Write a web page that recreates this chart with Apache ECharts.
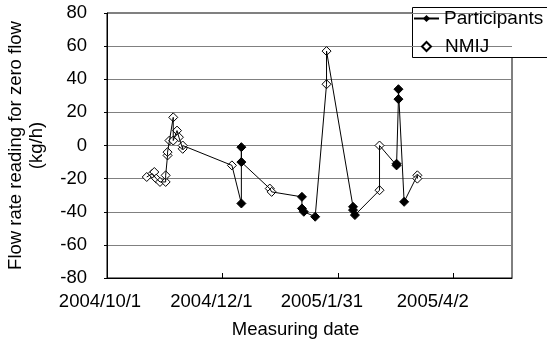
<!DOCTYPE html>
<html>
<head>
<meta charset="utf-8">
<script src="https://cdn.jsdelivr.net/npm/echarts@6/dist/echarts.min.js"></script>
<style>
    html, body { margin: 0; padding: 0; background: #fff; }
    #chart { width: 547px; height: 349px; }
</style>
</head>
<body>
<div id="chart"></div>
<script>
// measurements, in date order (the black line runs through all of them)
var measureDates = [
    '2004/10/22', '2004/10/25', '2004/10/26', '2004/10/27', '2004/10/29',
    '2004/11/1', '2004/11/1', '2004/11/2', '2004/11/2', '2004/11/3',
    '2004/11/5', '2004/11/5', '2004/11/7', '2004/11/8', '2004/11/10', '2004/11/10',
    '2004/12/6', '2004/12/11', '2004/12/11', '2004/12/11',
    '2004/12/26', '2004/12/27',
    '2005/1/12', '2005/1/12', '2005/1/13', '2005/1/19',
    '2005/1/25', '2005/1/25',
    '2005/2/8', '2005/2/8', '2005/2/9',
    '2005/2/22', '2005/2/22',
    '2005/3/3', '2005/3/3', '2005/3/4', '2005/3/4', '2005/3/7',
    '2005/3/14', '2005/3/14'
];
var measureValues = [
    -19, -17, -16, -20, -22,
    -22, -18, -6, -4, 3,
    17, 3, 9, 5, -2, 0,
    -12, -35, -1, -10,
    -26, -28,
    -31, -38, -40, -43,
    37, 57,
    -37, -39, -42,
    -27, 0,
    -12, -11, 28, 34, -34,
    -18, -20
];
// who measured: P = participants, N = NMIJ
var measureBy = [
    'N', 'N', 'N', 'N', 'N',
    'N', 'N', 'N', 'N', 'N',
    'N', 'N', 'N', 'N', 'N', 'N',
    'N', 'P', 'P', 'P',
    'N', 'N',
    'P', 'P', 'P', 'P',
    'N', 'N',
    'P', 'P', 'P',
    'N', 'N',
    'P', 'P', 'P', 'P', 'P',
    'N', 'N'
];
var xTickLabels = ['2004/10/1', '2004/12/1', '2005/1/31', '2005/4/2'];
var yTicks = [-80, -60, -40, -20, 0, 20, 40, 60, 80];

var DAY = 24 * 3600 * 1000;
var base = Date.UTC(2004, 9, 1);

function toDay(s) {
    var p = s.split('/');
    return (Date.UTC(+p[0], +p[1] - 1, +p[2]) - base) / DAY;
}

var lineData = [];
var nmijData = [];
for (var i = 0; i < measureDates.length; i++) {
    var d = toDay(measureDates[i]);
    if (measureBy[i] === 'P') {
        lineData.push([d, measureValues[i]]);
    } else {
        lineData.push({ value: [d, measureValues[i]], symbol: 'none' });
        nmijData.push([d, measureValues[i]]);
    }
}

var font = 'Liberation Sans, Arial, sans-serif';
// excel put the date labels a bit left of their ticks
var labelRich = {};
var shifts = [14, 22, 32, 41];
for (var k = 0; k < shifts.length; k++) {
    labelRich['s' + k] = { fontSize: 18.5, fontFamily: font, color: '#000', padding: [0, shifts[k], 0, 0] };
}
var legendText = { fontSize: 19, fontFamily: font, color: '#000', lineHeight: 19 };

var chart = echarts.init(document.getElementById('chart'), null, { renderer: 'canvas' });
chart.setOption({
    animation: false,
    backgroundColor: '#fff',
    grid: {
        left: 107, top: 13, right: 35, bottom: 71,
        containLabel: false,
        outerBoundsMode: 'none',
        show: true,
        borderColor: '#000',
        borderWidth: 1
    },
    graphic: {
        z: 3,
        elements: [{
            type: 'rect',
            left: 412, top: 7,
            shape: { width: 150, height: 50 },
            style: { fill: '#fff', stroke: '#000', lineWidth: 1 }
        }]
    },
    legend: [{
        left: 413, top: 9,
        padding: 0,
        itemWidth: 25,
        itemHeight: 9,
        textStyle: legendText,
        data: ['Participants']
    }, {
        left: 421, top: 37,
        padding: 0,
        itemWidth: 9,
        itemHeight: 9,
        textStyle: legendText,
        formatter: '{a|{name}}',
        data: ['NMIJ']
    }],
    xAxis: {
        type: 'value',
        min: 0,
        max: 214,
        interval: 61,
        name: 'Measuring date',
        nameLocation: 'middle',
        nameGap: 42,
        nameTextStyle: { fontSize: 18.5, fontFamily: font, color: '#000', padding: [0, 28, 0, 0] },
        axisLine: { onZero: false, lineStyle: { color: '#000', width: 1 } },
        axisTick: { inside: true, length: 5, lineStyle: { color: '#000' } },
        splitLine: { show: false },
        axisLabel: {
            margin: 14,
            showMaxLabel: false,
            fontSize: 18.5, fontFamily: font, color: '#000',
            rich: labelRich,
            formatter: function (v) {
                if (v % 61 !== 0) return '';
                var n = v / 61;
                return '{s' + n + '|' + xTickLabels[n] + '}';
            }
        }
    },
    yAxis: {
        type: 'value',
        min: yTicks[0],
        max: yTicks[yTicks.length - 1],
        interval: 20,
        name: 'Flow rate reading for zero flow\n(kg/h)',
        nameLocation: 'middle',
        nameRotate: 90,
        nameGap: 60,
        nameTextStyle: { fontSize: 18.5, fontFamily: font, color: '#000', lineHeight: 21 },
        axisLine: { show: true, lineStyle: { color: '#000', width: 1 } },
        axisTick: { show: true, length: 3, lineStyle: { color: '#000' } },
        splitLine: { show: true, lineStyle: { color: '#808080', width: 1 } },
        axisLabel: { margin: 20, fontSize: 18.5, fontFamily: font, color: '#000' }
    },
    series: [
        {
            name: 'Participants',
            type: 'line',
            data: lineData,
            symbol: 'diamond',
            symbolSize: 9,
            lineStyle: { color: '#000', width: 1 },
            itemStyle: { color: '#000', borderColor: '#000' }
        },
        {
            name: 'NMIJ',
            type: 'scatter',
            data: nmijData,
            symbol: 'diamond',
            symbolSize: 9,
            itemStyle: { color: '#fff', borderColor: '#000', borderWidth: 1, opacity: 1 }
        }
    ]
});
// the NMIJ legend text sits further from its marker
chart.setOption({
    legend: [{}, {
        textStyle: Object.assign({}, legendText, {
            rich: { a: Object.assign({}, legendText, { padding: [0, 0, 0, 9] }) }
        })
    }]
});
</script>
</body>
</html>
